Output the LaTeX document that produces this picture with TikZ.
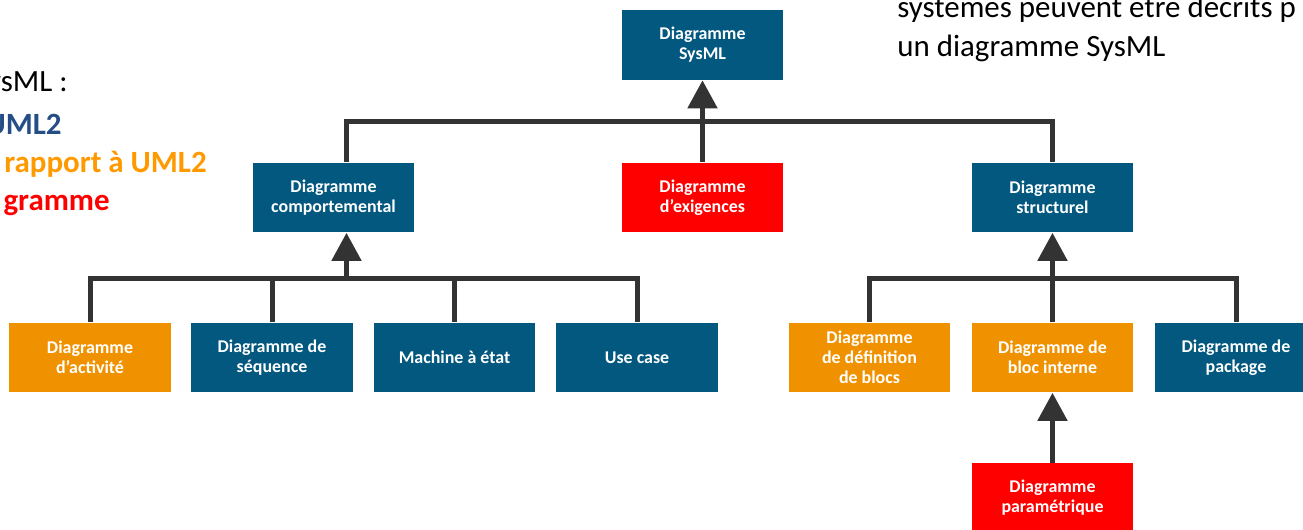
\documentclass[tikz,border=0pt]{standalone}
\usepackage{fontspec}
\setmainfont{Carlito}
\usetikzlibrary{arrows.meta,positioning}
\definecolor{sysBlue}{RGB}{3,88,127}
\definecolor{sysOrange}{RGB}{240,146,0}
\definecolor{sysRed}{RGB}{255,0,0}
\definecolor{lineGray}{RGB}{51,51,51}
\definecolor{textBlue}{RGB}{37,78,134}
\definecolor{textOrange}{RGB}{255,153,0}
\tikzset{
  diag/.style={minimum width=3.24cm, minimum height=1.4cm, inner sep=0pt, align=center,
    text=white, font=\fontsize{10.2}{11.4}\selectfont\bfseries},
  diagB/.style={diag, fill=sysBlue},
  diagO/.style={diag, fill=sysOrange},
  diagR/.style={diag, fill=sysRed},
  link/.style={lineGray, line width=0.1cm},
  herit/.style={link, -{Triangle[width=0.58cm,length=0.56cm]}},
  slide/.style={inner sep=0pt, font=\fontsize{17.6}{21}\selectfont},
  slideBold/.style={inner sep=0pt, font=\fontsize{17.6}{21}\selectfont\bfseries},
}

\begin{document}
\begin{tikzpicture}[x=0.02cm,y=-0.02cm]
	\clip (0,0) rectangle (1303,530);
	% niveau 0 et 1
	\node[diagB] (sysml) at (702.5,45) {Diagramme\\SysML};
	\node[diagB] (comp) at (333.5,197.5) {Diagramme\\comportemental};
	\node[diagR] (exig) at (702.5,197.5) {Diagramme\\d’exigences};
	\node[diagB] (struct) at (1052.5,197.5) {Diagramme\\structurel};
	% niveau 2
	\node[diagO] (activite) at (90,357.5) {Diagramme\\d’activité};
	\node[diagB] (sequence) at (272,357.5) {Diagramme de\\séquence};
	\node[diagB] (machine) at (454.5,357.5) {Machine à état};
	\node[diagB] (usecase) at (637,357.5) {Use case};
	\node[diagO] (defblocs) at (869.5,357.5) {Diagramme\\de définition\\de blocs};
	\node[diagO] (blocint) at (1052.5,357.5) {Diagramme de\\bloc interne};
	\node[diagB] (package) at (1236,357.5) {Diagramme de\\package};
	\node[diagR] (param) at (1052.5,498) {Diagramme\\paramétrique};

	\coordinate (barH) at (0,122);
	\coordinate (barC) at (0,279);
	\coordinate (barS) at (0,279);
	\coordinate (compUp) at ([xshift=0.26cm]comp.north);
	\coordinate (compDown) at ([xshift=0.26cm]comp.south);

	% vers SysML
	\draw[link] (compUp) -- (compUp |- barH) -- (struct.north |- barH) -- (struct.north);
	\draw[herit] (exig.north) -- (sysml.south);
	% comportemental
	\draw[link] (activite.north) -- (activite.north |- barC) -- (usecase.north |- barC) -- (usecase.north);
	\foreach \n in {sequence,machine}
		\draw[link] (\n.north) -- (\n.north |- barC);
	\draw[herit] (compDown |- barC) -- (compDown);
	% structurel
	\draw[link] (defblocs.north) -- (defblocs.north |- barS) -- (package.north |- barS) -- (package.north);
	\draw[herit] (blocint.north) -- (struct.south);
	\draw[herit] (param.north) -- (blocint.south);

	% texte de la diapo
	\node[slide, anchor=base east] (txtA) at (68,92) {ysML :};
	\node[slideBold, anchor=base east, textBlue] (txtB) at (62,135) {UML2};
	\node[slideBold, anchor=base east, textOrange] (txtC) at (207,173) {rapport à UML2};
	\node[slideBold, anchor=base east, sysRed] (txtD) at (110,211) {gramme};
	\node[slide, anchor=base west] (txtE) at (897,18) {systèmes peuvent être décrits p};
	\node[slide, anchor=base west] (txtF) at (897,57) {un diagramme SysML};
\end{tikzpicture}
\end{document}
